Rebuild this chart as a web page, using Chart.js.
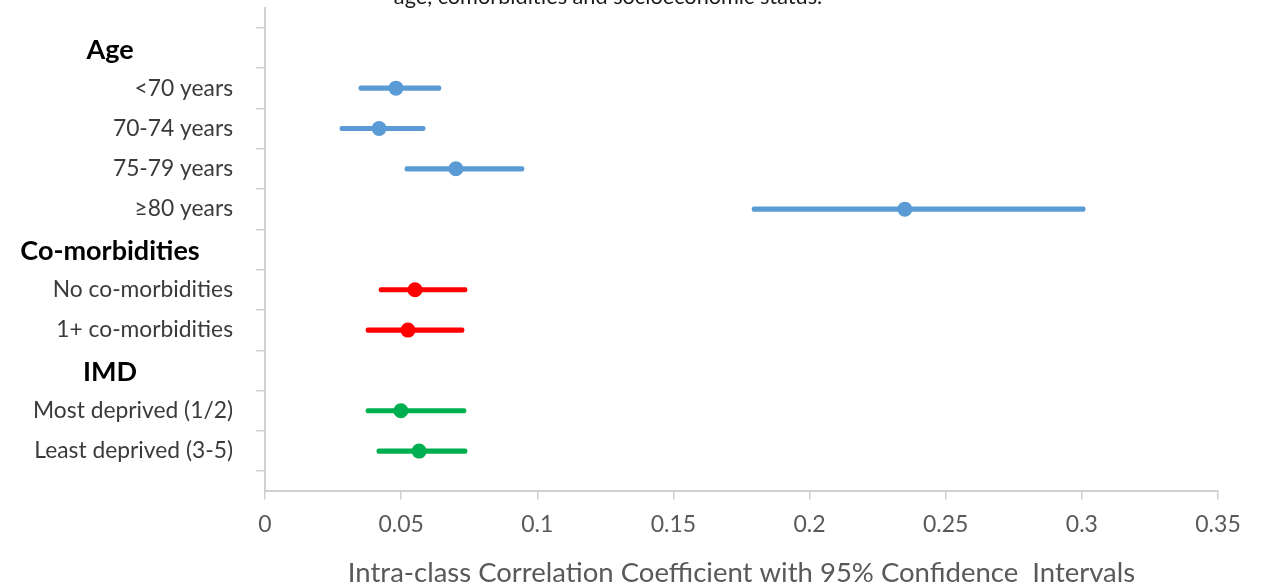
<!DOCTYPE html>
<html>
<head>
<meta charset="utf-8">
<script src="https://cdn.jsdelivr.net/npm/chart.js@4/dist/chart.umd.min.js"></script>
<style>
  html, body { margin: 0; padding: 0; background: #fff; }
  #wrap { width: 1263px; height: 587px; }
</style>
</head>
<body>
<div id="wrap"><canvas id="forest"></canvas></div>
<script>
// rows of the forest plot, top to bottom ('' = empty end rows)
const rows = ['', 'Age', '<70 years', '70-74 years', '75-79 years', '≥80 years',
  'Co-morbidities', 'No co-morbidities', '1+ co-morbidities',
  'IMD', 'Most deprived (1/2)', 'Least deprived (3-5)', ''];
const headers = ['Age', 'Co-morbidities', 'IMD'];

const icc   = [null, null, 0.0481, 0.0419, 0.0701, 0.2350, null, 0.0551, 0.0525, null, 0.0499, 0.0566, null];
const lower = [null, null, 0.0345, 0.0275, 0.0514, 0.1789, null, 0.0419, 0.0371, null, 0.0371, 0.0411, null];
const upper = [null, null, 0.0646, 0.0588, 0.0951, 0.3012, null, 0.0742, 0.0731, null, 0.0738, 0.0742, null];
const xTicks = [0, 0.05, 0.1, 0.15, 0.2, 0.25, 0.3, 0.35];

const titleLine = 'age, comorbidities and socioeconomic status.';
const xTitle = 'Intra-class Correlation Coefficient with 95% Confidence  Intervals';

// colour by group
const groupColor = (label) => {
  const i = rows.indexOf(label);
  if (i >= 2 && i <= 5) return '#5b9bd5';
  if (i >= 7 && i <= 8) return '#ff0000';
  return '#00b050';
};
const colors = rows.map(groupColor);

const ciRanges = rows.map((r, i) => lower[i] == null ? null : [lower[i], upper[i]]);

// headers and the cut-off title drawn as text on the canvas
const textPlugin = {
  id: 'textPlugin',
  afterDraw(chart) {
    const ctx = chart.ctx;
    const y = chart.scales.y;
    ctx.save();
    ctx.fillStyle = '#000';
    ctx.font = 'bold 27px Lato';
    ctx.textAlign = 'center';
    ctx.textBaseline = 'middle';
    headers.forEach(h => {
      ctx.fillText(h, chart.chartArea.left - 155, y.getPixelForValue(rows.indexOf(h)) + 2);
    });
    ctx.fillStyle = '#1a1a1a';
    ctx.font = '21.7px Lato';
    ctx.textBaseline = 'alphabetic';
    ctx.fillText(titleLine, 608, 4);
    ctx.restore();
  }
};

new Chart(document.getElementById('forest'), {
  type: 'bar',
  data: {
    labels: rows,
    datasets: [
      {
        type: 'line',
        data: icc,
        showLine: false,
        pointRadius: 7.5,
        pointHoverRadius: 7.5,
        pointBackgroundColor: colors,
        pointBorderColor: colors,
        borderWidth: 0,
        order: 0
      },
      {
        data: ciRanges,
        backgroundColor: colors,
        barThickness: 4.5,
        borderSkipped: false,
        borderRadius: 2,
        order: 1
      }
    ]
  },
  options: {
    indexAxis: 'y',
    responsive: true,
    maintainAspectRatio: false,
    animation: false,
    layout: { padding: { top: 7, right: 45, left: 0, bottom: -3 } },
    plugins: { legend: { display: false }, tooltip: { enabled: false } },
    scales: {
      x: {
        type: 'linear',
        min: 0,
        max: 0.35,
        afterBuildTicks: (s) => { s.ticks = xTicks.map(v => ({ value: v })); },
        grid: { drawOnChartArea: false, drawTicks: true, tickLength: 8, color: '#d0d0d0', lineWidth: 1.5 },
        border: { color: '#d0d0d0', width: 2 },
        ticks: {
          color: '#595959',
          font: { family: 'Lato', size: 23 },
          padding: 11,
          callback: (v) => String(+v.toFixed(2))
        },
        title: {
          display: true,
          text: xTitle,
          color: '#595959',
          font: { family: 'Lato', size: 27.5 },
          padding: { top: 8, bottom: 0 }
        }
      },
      y: {
        type: 'category',
        offset: false,
        afterFit: (s) => { s.width = 265; s.paddingTop = 0; s.paddingBottom = 0; },
        grid: { drawOnChartArea: false, drawTicks: true, tickLength: 9, color: '#d0d0d0', lineWidth: 1.5 },
        border: { color: '#d0d0d0', width: 2 },
        ticks: {
          autoSkip: false,
          color: '#3a3a3a',
          font: { family: 'Lato', size: 22.8 },
          padding: 23,
          callback: function (v) {
            const l = rows[v];
            return headers.includes(l) ? '' : l;
          }
        }
      }
    }
  },
  plugins: [textPlugin]
});
</script>
</body>
</html>
